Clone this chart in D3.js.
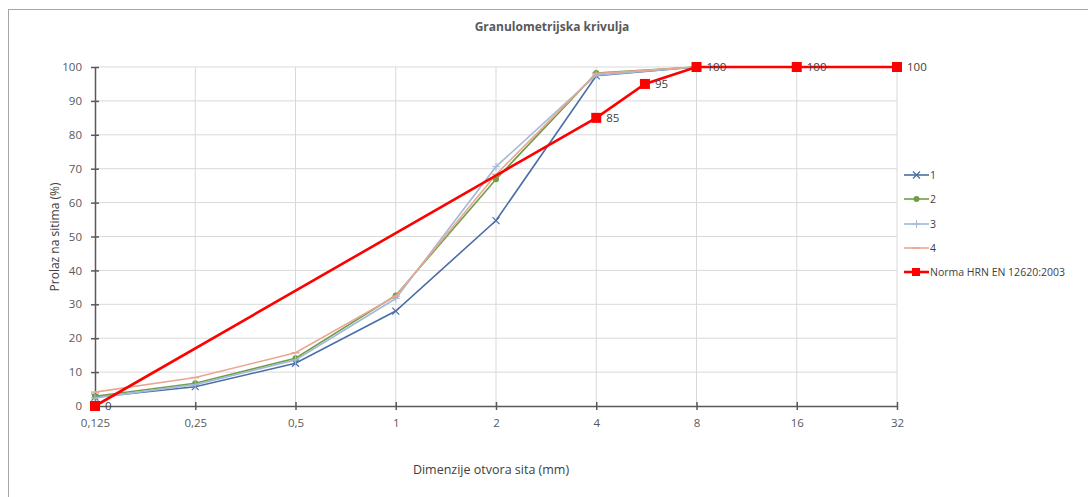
<!DOCTYPE html>
<html><head><meta charset="utf-8">
<script src="https://cdn.jsdelivr.net/npm/d3@7"></script>
<style>body{margin:0;background:#fff}svg{display:block}text{font-family:"Open Sans","Noto Sans",sans-serif}</style>
</head><body><div id="chart"></div>
<script>
const sieves = [0.125, 0.25, 0.5, 1, 2, 4, 8];
const tickValues = [0.125, 0.25, 0.5, 1, 2, 4, 8, 16, 32];
const tickLabels = ["0,125", "0,25", "0,5", "1", "2", "4", "8", "16", "32"];
const yTicks = [0, 10, 20, 30, 40, 50, 60, 70, 80, 90, 100];
const series1 = [2.6, 5.7, 12.6, 28, 54.7, 97.4, 100];
const series2 = [2.9, 6.7, 14.1, 32.6, 66.9, 98.2, 100];
const series3 = [2.4, 6.3, 13.6, 31.7, 70.6, 97.6, 100];
const series4 = [4.1, 8.4, 15.7, 32.4, 68.3, 98.1, 100];
const normX = [0.125, 4, 5.6, 8, 16, 32];
const normY = [0, 85, 95, 100, 100, 100];
const seriesNames = ["1", "2", "3", "4", "Norma HRN EN 12620:2003"];

const W = 1088, H = 497;
const svg = d3.select("#chart").append("svg").attr("width", W).attr("height", H);
svg.append("rect").attr("x", 8.5).attr("y", 9.5).attr("width", W + 20).attr("height", H + 20)
  .attr("fill", "#fff").attr("stroke", "#a6a6a6").attr("stroke-width", 1);

const x = d3.scaleLog().base(2).domain([0.125, 32]).range([95, 897]);
const y = d3.scaleLinear().domain([0, 100]).range([406, 67]);

// gridlines
svg.append("g").selectAll("line").data(yTicks.slice(1)).join("line")
  .attr("x1", 95).attr("x2", 897).attr("y1", d => y(d)).attr("y2", d => y(d))
  .attr("stroke", "#d9d9d9").attr("stroke-width", 1);
svg.append("g").selectAll("line").data(tickValues.slice(1)).join("line")
  .attr("x1", d => x(d)).attr("x2", d => x(d)).attr("y1", 67).attr("y2", 406)
  .attr("stroke", "#d9d9d9").attr("stroke-width", 1);

// axes
const axisColor = "#595959";
const yAxis = svg.append("g").attr("transform", "translate(95,0)")
  .call(d3.axisLeft(y).tickValues(yTicks).tickSize(0).tickPadding(13));
yAxis.select(".domain").attr("stroke", axisColor).attr("stroke-width", 1.5);
yAxis.selectAll("text").attr("fill", axisColor).style("font-size", "11.5px");
yAxis.selectAll(".tick").append("line").attr("x1", -4).attr("x2", 4).attr("stroke", axisColor).attr("stroke-width", 1.5);

const xAxis = svg.append("g").attr("transform", "translate(0,406)")
  .call(d3.axisBottom(x).tickValues(tickValues).tickFormat((d, i) => tickLabels[i]).tickSize(0).tickPadding(13));
xAxis.select(".domain").attr("stroke", axisColor).attr("stroke-width", 1.5);
xAxis.selectAll("text").attr("fill", axisColor).style("font-size", "11.5px");
xAxis.selectAll(".tick").append("line").attr("y1", -4).attr("y2", 4).attr("stroke", axisColor).attr("stroke-width", 1.5);

// titles
svg.append("text").attr("x", 552).attr("y", 31).attr("text-anchor", "middle")
  .attr("fill", "#595959").style("font-size", "12px").style("font-weight", "bold").text("Granulometrijska krivulja");
svg.append("text").attr("transform", "translate(59,237) rotate(-90)").attr("text-anchor", "middle")
  .attr("fill", "#404040").style("font-size", "12px").text("Prolaz na sitima (%)");
svg.append("text").attr("x", 491).attr("y", 474).attr("text-anchor", "middle")
  .attr("fill", "#404040").style("font-size", "12.5px").text("Dimenzije otvora sita (mm)");

const colors = ["#4a6ea5", "#6e9e45", "#a3bad9", "#eaa693", "#ff0000"];
const line = d3.line().x(d => x(d[0])).y(d => y(d[1]));
const sData = [series1, series2, series3, series4];

function marker(g, type, cx, cy, c) {
  if (type === 0) {
    g.append("path").attr("d", `M${cx-3.5},${cy-3.5}L${cx+3.5},${cy+3.5}M${cx-3.5},${cy+3.5}L${cx+3.5},${cy-3.5}`)
      .attr("stroke", c).attr("stroke-width", 1.2).attr("fill", "none");
  } else if (type === 1) {
    g.append("circle").attr("cx", cx).attr("cy", cy).attr("r", 3).attr("fill", c);
  } else if (type === 2) {
    g.append("path").attr("d", `M${cx-4},${cy}L${cx+4},${cy}M${cx},${cy-4}L${cx},${cy+4}`)
      .attr("stroke", c).attr("stroke-width", 1).attr("fill", "none");
  } else if (type === 3) {
    g.append("path").attr("d", `M${cx-4},${cy}L${cx+4},${cy}`)
      .attr("stroke", c).attr("stroke-width", 1.5).attr("fill", "none");
  } else {
    g.append("rect").attr("x", cx - 5).attr("y", cy - 5).attr("width", 10).attr("height", 10).attr("fill", c);
  }
}

sData.forEach((s, i) => {
  const pts = sieves.map((v, j) => [v, s[j]]);
  const g = svg.append("g");
  g.append("path").attr("d", line(pts)).attr("fill", "none").attr("stroke", colors[i]).attr("stroke-width", 1.6);
  pts.forEach(p => marker(g, i, x(p[0]), y(p[1]), colors[i]));
});

// norm
const normPts = normX.map((v, j) => [v, normY[j]]);
const gN = svg.append("g");
gN.append("path").attr("d", line(normPts)).attr("fill", "none").attr("stroke", colors[4]).attr("stroke-width", 2.6);
normPts.forEach(p => marker(gN, 4, x(p[0]), y(p[1]), colors[4]));
gN.selectAll("text.lbl").data(normPts).join("text").attr("class", "lbl")
  .attr("x", d => x(d[0]) + 10).attr("y", d => y(d[1]) + 4)
  .attr("fill", "#404040").style("font-size", "11.5px").text(d => d[1]);

// legend
const legY = [175, 199, 224, 248, 272];
seriesNames.forEach((n, i) => {
  const g = svg.append("g");
  const cy = legY[i];
  g.append("line").attr("x1", 904).attr("x2", 929).attr("y1", cy).attr("y2", cy)
    .attr("stroke", colors[i]).attr("stroke-width", i === 4 ? 2.6 : 1.6);
  if (i === 4) {
    g.append("rect").attr("x", 912).attr("y", cy - 4).attr("width", 8).attr("height", 8).attr("fill", colors[4]);
  } else {
    marker(g, i, 916.5, cy, colors[i]);
  }
  g.append("text").attr("x", 930).attr("y", cy + 4).attr("fill", "#404040").style("font-size", "10.5px").text(n);
});
</script></body></html>
